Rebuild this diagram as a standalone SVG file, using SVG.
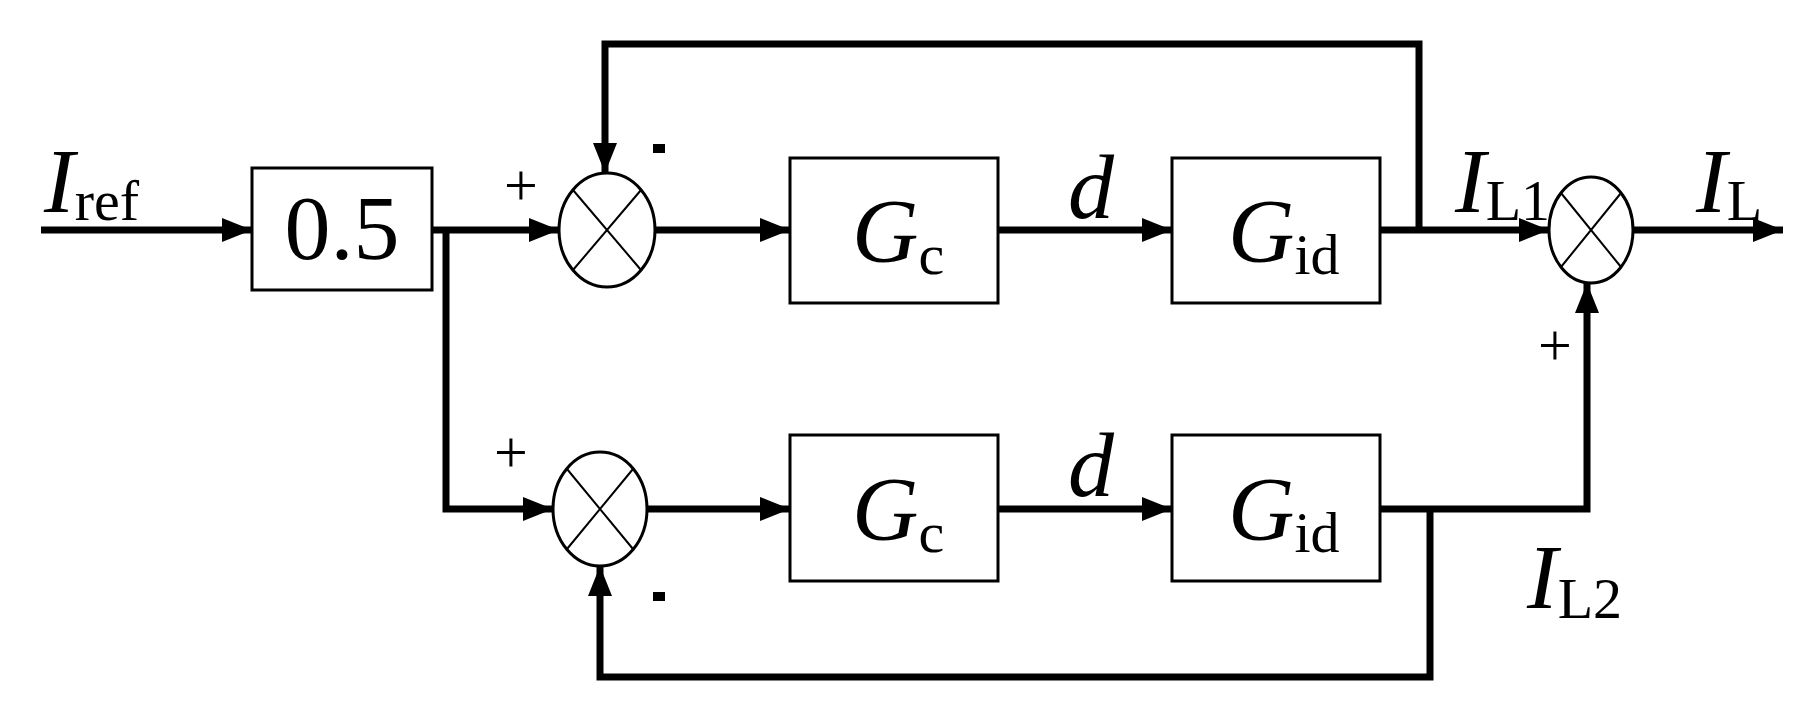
<svg xmlns="http://www.w3.org/2000/svg" width="1816" height="722" viewBox="0 0 1816 722">
<defs>
<marker id="ar" markerWidth="10" markerHeight="10" refX="10" refY="5" orient="auto" markerUnits="userSpaceOnUse" viewBox="0 0 10 10"><path d="M0,0 L10,5 L0,10 z" fill="#000"/></marker>
<marker id="a" viewBox="0 0 30 24" refX="30" refY="12" markerWidth="30" markerHeight="24" markerUnits="userSpaceOnUse" orient="auto"><path d="M0,0 L30,12 L0,24 z" fill="#000"/></marker>
</defs>
<style>
.b{fill:#fff;stroke:#000;stroke-width:3}
.w{fill:none;stroke:#000;stroke-width:7}
.t{font-family:"Liberation Serif",serif;font-size:92px;fill:#000}
.i{font-style:italic}
.s{font-size:58px;font-style:normal}
.sg{font-family:"Liberation Serif",serif;font-size:60px}
.x{stroke:#000;stroke-width:2}
</style>
<rect width="1816" height="722" fill="#fff"/>
<g id="connectors">
<path class="w" d="M41,230 H252" marker-end="url(#a)"/>
<path class="w" d="M432,230 H559" marker-end="url(#a)"/>
<path class="w" d="M446,230 V509 H553" marker-end="url(#a)"/>
<path class="w" d="M655,230 H790" marker-end="url(#a)"/>
<path class="w" d="M647,509 H790" marker-end="url(#a)"/>
<path class="w" d="M998,230 H1172" marker-end="url(#a)"/>
<path class="w" d="M998,509 H1172" marker-end="url(#a)"/>
<path class="w" d="M1380,230 H1549" marker-end="url(#a)"/>
<path class="w" d="M1633,230 H1783" marker-end="url(#a)"/>
<path class="w" d="M1419,230 V44 H605 V173" marker-end="url(#a)"/>
<path class="w" d="M1380,509 H1587 V283" marker-end="url(#a)"/>
<path class="w" d="M1430,509 V677 H600 V566" marker-end="url(#a)"/>
</g>
<g id="gain"><rect class="b" x="252" y="168" width="180" height="122"/><text class="t" x="342" y="259" text-anchor="middle">0.5</text></g>
<g id="sum1"><ellipse class="b" cx="607" cy="230" rx="48" ry="57"/><path class="x" d="M573,190 L641,270 M641,190 L573,270"/></g>
<g id="sum2"><ellipse class="b" cx="600" cy="509" rx="47" ry="57"/><path class="x" d="M567,469 L633,549 M633,469 L567,549"/></g>
<g id="sum3"><ellipse class="b" cx="1591" cy="230" rx="42" ry="53"/><path class="x" d="M1561,193 L1621,267 M1621,193 L1561,267"/></g>
<g id="gc1"><rect class="b" x="790" y="158" width="208" height="145"/><text class="t i" x="852" y="262">G<tspan class="s" dy="12">c</tspan></text></g>
<g id="gid1"><rect class="b" x="1172" y="158" width="208" height="145"/><text class="t i" x="1228" y="262">G<tspan class="s" dy="12">id</tspan></text></g>
<g id="gc2"><rect class="b" x="790" y="435" width="208" height="146"/><text class="t i" x="852" y="540">G<tspan class="s" dy="12">c</tspan></text></g>
<g id="gid2"><rect class="b" x="1172" y="435" width="208" height="146"/><text class="t i" x="1228" y="540">G<tspan class="s" dy="12">id</tspan></text></g>
<g id="labels">
<text class="t i" x="44" y="212">I<tspan class="s" dy="8">ref</tspan></text>
<text class="t i" x="1068" y="218">d</text>
<text class="t i" x="1068" y="496">d</text>
<text class="t i" x="1455" y="212">I<tspan class="s" dy="8">L1</tspan></text>
<text class="t i" x="1696" y="212">I<tspan class="s" dy="8">L</tspan></text>
<text class="t i" x="1527" y="608">I<tspan class="s" dy="10">L2</tspan></text>
<text class="sg" x="504" y="205">+</text>
<text class="sg" x="494" y="472">+</text>
<text class="sg" x="1538" y="365">+</text>
<rect x="653" y="144" width="12" height="9" fill="#000"/>
<rect x="653" y="592" width="12" height="9" fill="#000"/>
</g>
</svg>
